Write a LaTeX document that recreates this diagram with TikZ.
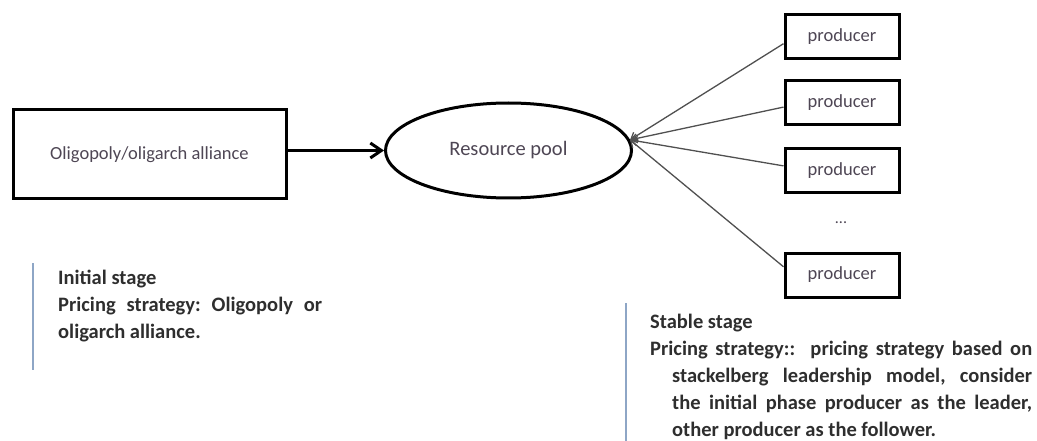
\documentclass[tikz,border=0pt]{standalone}
\usepackage{fontspec}
\setmainfont{Carlito}
\usetikzlibrary{shapes.geometric,arrows.meta}

\definecolor{labelgray}{HTML}{4E4654}
\definecolor{notegray}{HTML}{2E2E2E}
\definecolor{barblue}{HTML}{8EA6C6}
\definecolor{feedgray}{HTML}{505050}

\tikzset{
  thickbox/.style={draw=black, line width=3pt, rectangle, inner sep=0pt,
    text=labelgray, font=\fontsize{18.5}{22}\selectfont},
  prodbox/.style={thickbox, minimum width=114pt, minimum height=44pt},
  poolshape/.style={draw=black, line width=3pt, ellipse, inner sep=0pt,
    minimum width=246pt, minimum height=95pt, text=labelgray,
    font=\fontsize{20.5}{24}\selectfont},
  mainarrow/.style={line width=3pt, -{Straight Barb[length=11pt,width=15pt]}},
  feedarrow/.style={draw=feedgray, line width=1.3pt,
    -{Straight Barb[length=6pt,width=9pt]}},
  notetext/.style={inner sep=0pt, anchor=north west,
    text=notegray, font=\fontsize{20.5}{27}\selectfont\bfseries\frenchspacing},
  notebar/.style={draw=barblue, line width=2pt}
}

\begin{document}
\begin{tikzpicture}[x=1pt, y=-1pt]
  \useasboundingbox (0,0) rectangle (1037,441);

  % left block and the central pool
  \node[thickbox, minimum width=273pt, minimum height=89pt] (alliance) at (149.5,154.5)
    {Oligopoly/oligarch alliance};
  \node[poolshape] (pool) at (508.5,150.5) {\raisebox{-2pt}{Resource pool}};

  % producers on the right
  \node[prodbox] (p1) at (842,36.5) {producer};
  \node[prodbox] (p2) at (842,103) {producer};
  \node[prodbox] (p3) at (842,171) {producer};
  \node[font=\fontsize{16}{18}\selectfont, text=labelgray] (dots) at (841,223) {...};
  \node[prodbox] (p4) at (842,275) {producer};

  % connectors
  \draw[mainarrow] (alliance.east |- pool.west) -- (pool.west);
  \draw[feedarrow] (p1.187) -- (pool.5);
  \draw[feedarrow] (p2.184) -- (pool.5);
  \draw[feedarrow] (p3.175) -- (pool.5);
  \draw[feedarrow] (p4.172) -- (pool.5);

  % stage notes with their side bars
  \draw[notebar] (33,263) -- (33,370);
  \node[notetext] (initial) at (58,270)
    {\parbox[t]{264pt}{\parindent=0pt
     Initial stage\par
     Pricing strategy: Oligopoly or\linebreak oligarch alliance.}};

  \draw[notebar] (626,303) -- (626,441);
  \node[notetext] (stable) at (650,314)
    {\parbox[t]{382pt}{\parindent=0pt
     Stable stage\par
     \hangindent=22pt\hangafter=1
     Pricing strategy::\ \ pricing strategy based on\linebreak
     stackelberg leadership model, consider\linebreak
     the initial phase producer as the leader,\linebreak
     other producer as the follower.}};
\end{tikzpicture}
\end{document}
